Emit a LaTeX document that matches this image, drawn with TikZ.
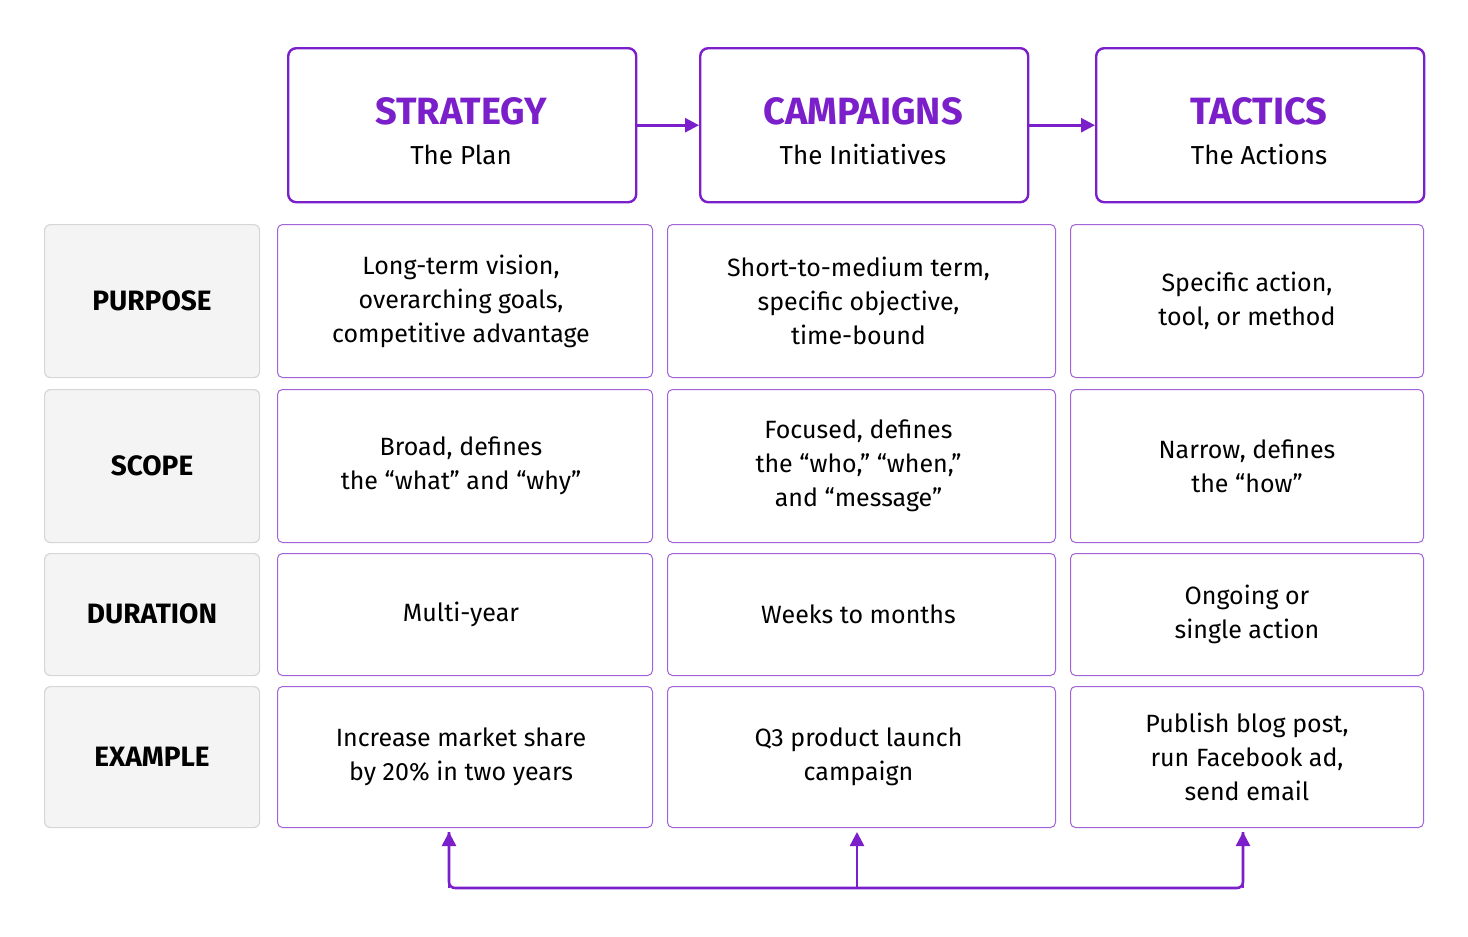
\documentclass[tikz,border=0pt]{standalone}
\usepackage{fontspec}
\setmainfont{Fira Sans}
\usetikzlibrary{arrows.meta}
\definecolor{pur}{HTML}{7A1FC9}
\definecolor{lgray}{HTML}{F4F4F4}
\definecolor{bgray}{HTML}{D6D6D6}
\begin{document}
\begin{tikzpicture}[x=1pt,y=-1pt,
  head/.style={draw=pur,line width=2.4pt,rounded corners=8pt,fill=white,align=center},
  lab/.style={draw=bgray,line width=1.2pt,rounded corners=6pt,fill=lgray,font=\fontsize{28}{32}\selectfont\bfseries},
  cell/.style={draw=pur!70,line width=1pt,rounded corners=5pt,fill=white,align=center,font=\fontsize{24}{34}\selectfont},
  arr/.style={pur,line width=2.6pt,-{Triangle[length=14pt,width=14pt]}}]
\useasboundingbox (0,0) rectangle (1468,937);
\def\mkhead#1#2#3#4#5{\node[head,minimum width=#3-#2,minimum height=154,anchor=north west] (#1) at (#2,47) {};
  \node[text=pur,font=\fontsize{38}{40}\selectfont\bfseries] at ({(#2+#3)/2},111) {#4};
  \node[font=\fontsize{26}{30}\selectfont] at ({(#2+#3)/2},155) {#5};}
\mkhead{h1}{287}{635}{STRATEGY}{The Plan}
\mkhead{h2}{699}{1027}{CAMPAIGNS}{The Initiatives}
\mkhead{h3}{1095}{1423}{TACTICS}{The Actions}
\draw[arr] (h1.east) -- (h2.west);
\draw[arr] (h2.east) -- (h3.west);
\def\mkrow#1#2#3#4#5#6#7{%
  \node[lab,minimum width=215,minimum height=#3-#2,anchor=north west] (l#1) at (44,#2) {};
  \node[font=\fontsize{28}{32}\selectfont\bfseries] at (152,{(#2+#3)/2}) {#4};
  \node[cell,minimum width=375,minimum height=#3-#2,anchor=north west] (a#1) at (277,#2) {};
  \node[cell,minimum width=388,minimum height=#3-#2,anchor=north west] (b#1) at (667,#2) {};
  \node[cell,minimum width=353,minimum height=#3-#2,anchor=north west] (c#1) at (1070,#2) {};
  \node[align=center,font=\fontsize{25}{34}\selectfont] at ([xshift=-4pt]a#1.center) {#5};
  \node[align=center,font=\fontsize{25}{34}\selectfont] at ([xshift=-3pt]b#1.center) {#6};
  \node[align=center,font=\fontsize{25}{34}\selectfont] at (c#1.center) {#7};}
\mkrow{1}{224}{377}{PURPOSE}{Long-term vision,\\overarching goals,\\competitive advantage}{Short-to-medium term,\\specific objective,\\time-bound}{Specific action,\\tool, or method}
\mkrow{2}{389}{542}{SCOPE}{Broad, defines\\the “what” and “why”}{Focused, defines\\the “who,” “when,”\\and “message”}{Narrow, defines\\the “how”}
\mkrow{3}{553}{675}{DURATION}{Multi-year}{Weeks to months}{Ongoing or\\single action}
\mkrow{4}{686}{827}{EXAMPLE}{Increase market share\\by 20\% in two years}{Q3 product launch\\campaign}{Publish blog post,\\run Facebook ad,\\send email}
\coordinate (p1) at (449,888);
\coordinate (p2) at (857,888);
\coordinate (p3) at (1243,888);
\coordinate (t1) at (449,832);
\coordinate (t2) at (857,832);
\coordinate (t3) at (1243,832);
\draw[pur,line width=2.6pt,rounded corners=6pt] (t1) -- (p1) -- (p3) -- (t3);
\draw[arr] (p1) -- (t1);
\draw[arr] (p2) -- (t2);
\draw[arr] (p3) -- (t3);
\end{tikzpicture}
\end{document}
